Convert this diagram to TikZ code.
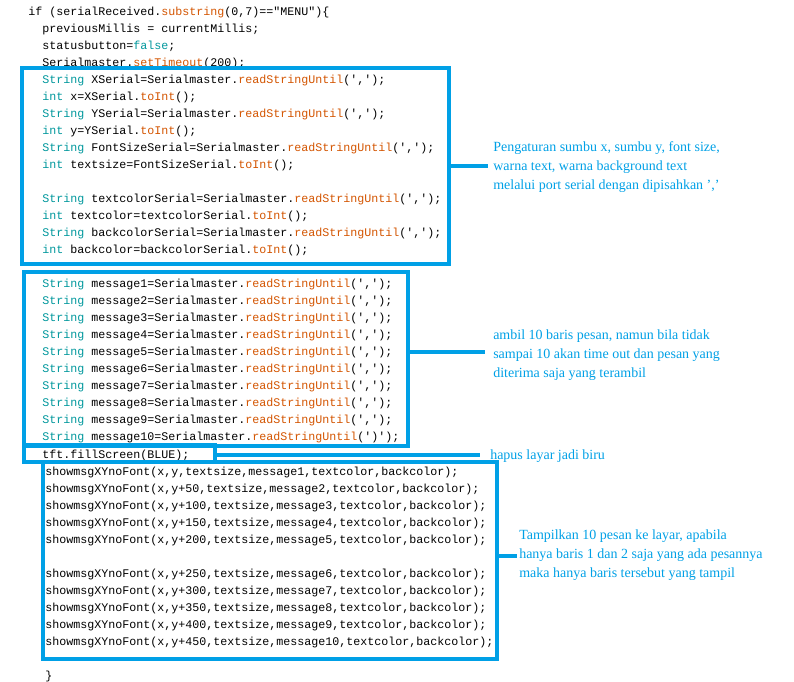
\documentclass[tikz,border=0pt]{standalone}
\usepackage{fontspec}
\usetikzlibrary{fit}
\setmainfont{Liberation Serif}
\newfontfamily\codefont{Liberation Mono}
\definecolor{kw}{HTML}{00979C}
\definecolor{fn}{HTML}{D35400}
\definecolor{bx}{HTML}{00A0E6}
\newcommand{\K}[1]{\textcolor{kw}{#1}}
\newcommand{\F}[1]{\textcolor{fn}{#1}}
\begin{document}
\begin{tikzpicture}[x=0.75pt,y=-0.75pt,
  code/.style={anchor=west,inner sep=0pt,font=\codefont\fontsize{8.75}{10}\selectfont},
  box/.style={draw=bx,line width=3pt,inner sep=0pt},
  note/.style={anchor=west,align=left,inner sep=0pt,text=bx,font=\fontsize{10.5}{14.5}\selectfont},
  conn/.style={bx,line width=3pt}]
\useasboundingbox (0,0) rectangle (794,682);
\node[code] (l0) at (28,12) {if (serialReceived.\F{substring}(0,7)=="MENU")\{};
\node[code] (l1) at (42,29) {previousMillis = currentMillis;};
\node[code] (l2) at (42,46) {statusbutton=\K{false};};
\node[code] (l3) at (42,63) {Serialmaster.\F{setTimeout}(200);};
\node[code] at (42,80) {\K{String} XSerial=Serialmaster.\F{readStringUntil}(',');};
\node[code] at (42,97) {\K{int} x=XSerial.\F{toInt}();};
\node[code] at (42,114) {\K{String} YSerial=Serialmaster.\F{readStringUntil}(',');};
\node[code] at (42,131) {\K{int} y=YSerial.\F{toInt}();};
\node[code] at (42,148) {\K{String} FontSizeSerial=Serialmaster.\F{readStringUntil}(',');};
\node[code] at (42,165) {\K{int} textsize=FontSizeSerial.\F{toInt}();};
\node[code] at (42,199) {\K{String} textcolorSerial=Serialmaster.\F{readStringUntil}(',');};
\node[code] at (42,216) {\K{int} textcolor=textcolorSerial.\F{toInt}();};
\node[code] at (42,233) {\K{String} backcolorSerial=Serialmaster.\F{readStringUntil}(',');};
\node[code] at (42,250) {\K{int} backcolor=backcolorSerial.\F{toInt}();};
\foreach \i in {1,...,9}{
  \node[code] at (42,267+17*\i) {\K{String} message\i=Serialmaster.\F{readStringUntil}(',');};
}
\node[code] at (42,437) {\K{String} message10=Serialmaster.\F{readStringUntil}(')');};
\node[code] at (42,455) {tft.fillScreen(BLUE);};
\node[code] at (45,472) {showmsgXYnoFont(x,y,textsize,message1,textcolor,backcolor);};
\foreach \i/\v in {2/50,3/100,4/150,5/200}{
  \node[code] at (45,455+17*\i) {showmsgXYnoFont(x,y+\v,textsize,message\i,textcolor,backcolor);};
}
\foreach \i/\v in {6/250,7/300,8/350,9/400,10/450}{
  \node[code] at (45,472+17*\i) {showmsgXYnoFont(x,y+\v,textsize,message\i,textcolor,backcolor);};
}
\node[code] at (45,676) {\}};

\node[box,fit={(22,68) (449,264)}] (b1) {};
\node[box,fit={(24,272) (408,446)}] (b2) {};
\node[box,fit={(24,445) (215,462)}] (b3) {};
\node[box,fit={(43,462) (497,659)}] (b4) {};

\node[note] (n1) at (493,167) {Pengaturan sumbu x, sumbu y, font size,\\warna text, warna background text\\melalui port serial dengan dipisahkan ','};
\node[note] (n2) at (493,355) {ambil 10 baris pesan, namun bila tidak\\sampai 10 akan time out dan pesan yang\\diterima saja yang terambil};
\node[note] (n3) at (490,456) {hapus layar jadi biru};
\node[note] (n4) at (519,555) {Tampilkan 10 pesan ke layar, apabila\\hanya baris 1 dan 2 saja yang ada pesannya\\maka hanya baris tersebut yang tampil};

\coordinate (c1) at (488,166);
\coordinate (c2) at (485,352);
\coordinate (c3) at (480,455);
\coordinate (c4) at (517,556);
\draw[conn] (b1.east |- c1) -- (c1);
\draw[conn] (b2.east |- c2) -- (c2);
\draw[conn] (b3.east |- c3) -- (c3);
\draw[conn] (b4.east |- c4) -- (c4);
\end{tikzpicture}
\end{document}
